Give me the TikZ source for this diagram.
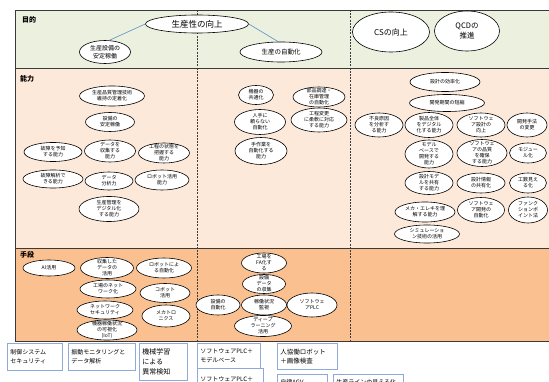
\documentclass[tikz,border=0pt]{standalone}
\usepackage{fontspec}
\setmainfont{Noto Sans CJK JP}
\usetikzlibrary{shapes.geometric}
\definecolor{bandG}{HTML}{EBF1DE}
\definecolor{bandP}{HTML}{FDE9D9}
\definecolor{bandO}{HTML}{FAC090}
\definecolor{linkB}{HTML}{5B8FC9}
\definecolor{boxB}{HTML}{8EAADB}
\definecolor{frameC}{HTML}{3A3A3A}
\tikzset{
  ov/.style={ellipse, draw=black, line width=0.6pt, fill=white, inner sep=0pt},
  ovt/.style={font=\fontsize{5}{6}\selectfont, align=center, inner sep=0pt},
  bx/.style={draw=boxB, line width=0.8pt, fill=white, inner xsep=3pt, inner ysep=2pt, align=left, anchor=north west, font=\fontsize{6}{9}\selectfont},
  frame/.style={draw=frameC, line width=0.8pt},
  dashline/.style={draw=frameC, line width=0.6pt, dash pattern=on 2pt off 1.2pt},
  link/.style={draw=linkB, line width=0.6pt},
  rowlabel/.style={font=\fontsize{7}{8}\selectfont\bfseries, anchor=west, inner sep=0pt}
}
\newcommand{\myov}[6]{%
  \node[ov, minimum width=#4pt, minimum height=#5pt] (#1) at (#2,#3) {};
  \node[ovt] (#1t) at (#1.center) {#6};}
\newcommand{\myovf}[7]{%
  \node[ov, minimum width=#4pt, minimum height=#5pt] (#1) at (#2,#3) {};
  \node[ovt, font=#6] (#1t) at (#1.center) {#7};}
\begin{document}
\begin{tikzpicture}[x=1pt, y=-1pt]
\useasboundingbox (0,0) rectangle (549,382);
\clip (0,0) rectangle (549,382);
% bands
\fill[bandG] (15,10) rectangle (549,68);
\fill[bandP] (15,68) rectangle (549,248);
\fill[bandO] (15,248) rectangle (549,341);
\draw[dashline] (197,10) -- (197,341);
\draw[dashline] (350,10) -- (350,341);
\draw[frame] (549,10) -- (15,10) -- (15,341) -- (549,341);
\draw[frame] (15,68) -- (549,68);
\draw[frame] (15,248) -- (549,248);
\node[rowlabel] (L1) at (22,20) {目的};
\node[rowlabel] (L2) at (20,79) {能力};
\node[rowlabel] (L3) at (20,255) {手段};
% 目的
\myovf{P}{197}{24}{103}{18}{\fontsize{8.5}{10}\selectfont}{生産性の向上}
\myovf{G1}{105}{52}{51}{23}{\fontsize{6}{7.5}\selectfont}{生産設備の\\安定稼働}
\myovf{G2}{281}{52}{82}{20}{\fontsize{6.5}{7.5}\selectfont}{生産の自動化}
\myovf{G3}{391}{32}{77}{40}{\fontsize{8}{9}\selectfont}{CSの向上}
\myovf{G4}{467}{31}{65}{40}{\fontsize{7.5}{10}\selectfont}{QCDの\\推進}
\draw[link] (P.west) -- (G1.70);
\draw[link] (P.east) -- (G2.105);
% 能力 column 1
\myov{A1}{112}{96}{65}{20}{生産品質管理技術\\維持の定着化}
\myov{A2}{110}{122}{49}{19}{設備の\\安定稼働}
\myov{A3}{53}{152}{58}{19}{故障を予知\\する能力}
\myov{A4}{110}{151}{51}{22}{データを\\収集する\\能力}
\myov{A5}{164}{153}{51}{20}{工程の状態を\\把握する\\能力}
\myov{A6}{53}{179}{60}{18}{故障解析で\\きる能力}
\myov{A7}{109}{181}{48}{18}{データ\\分析力}
\myov{A8}{162}{180}{54}{20}{ロボット活用\\能力}
\myov{A9}{109}{209}{60}{25}{生産管理を\\デジタル化\\する能力}
% 能力 column 2
\myov{B1}{256}{95}{35}{19}{機器の\\共通化}
\myov{B2}{319}{97}{52}{20}{部品調達・\\在庫管理\\の自動化}
\myov{B3}{260}{122}{51}{25}{人手に\\頼らない\\自動化}
\myov{B4}{319}{120}{56}{24}{工程変更\\に柔軟に対応\\する能力}
\myov{B5}{261}{151}{52}{27}{手作業を\\自動化する\\能力}
% 能力 column 3
\myov{C1}{445}{82}{70}{19}{設計の効率化}
\myov{C2}{447}{103}{75}{17}{開発期間の短縮}
\myov{C3}{379}{125}{48}{24}{不良原因\\を分析す\\る能力}
\myov{C4}{429}{125}{48}{25}{製品全体\\をデジタル\\化する能力}
\myov{C5}{481}{125}{48}{24}{ソフトウェ\\ア設計の\\向上}
\myov{C6}{527}{125}{40}{24}{開発手法\\の変更}
\myov{C7}{429}{154}{48}{28}{モデル\\ベースで\\開発する\\能力}
\myov{C8}{482}{153}{50}{27}{ソフトウェ\\アの品質\\を確保\\する能力}
\myov{C9}{528}{153}{37}{20}{モジュー\\ル化}
\myov{C10}{429}{183}{48}{23}{設計モデ\\ルを共有\\する能力}
\myov{C11}{481}{183}{48}{20}{設計情報\\の共有化}
\myov{C12}{528}{183}{37}{20}{工数見え\\る化}
\myov{C13}{425}{212}{60}{20}{メカ・エレキを理\\解する能力}
\myov{C14}{481}{210}{47}{25}{ソフトウェ\\ア開発の\\自動化}
\myov{C15}{528}{210}{39}{26}{ファンク\\ションポ\\イント法}
\myov{C16}{427}{234}{65}{18}{シミュレーショ\\ン技術の活用}
% 手段
\myov{D1}{49}{268}{52}{16}{AI活用}
\myov{D2}{107}{268}{53}{21}{収集した\\データの\\活用}
\myov{D3}{164}{268}{55}{20}{ロボットによ\\る自動化}
\myov{D4}{108}{289}{56}{18}{工場のネット\\ワーク化}
\myov{D5}{165}{293}{50}{19}{コボット\\活用}
\myov{D6}{105}{310}{56}{18}{ネットワーク\\セキュリティ}
\myov{D7}{166}{316}{48}{22}{メカトロ\\ニクス}
\myov{D8}{107}{330}{60}{20}{機器稼働状況\\の可視化\\(IoT)}
\myov{E1}{264}{263}{45}{20}{工場を\\FA化す\\る}
\myov{E2}{264}{284}{43}{19}{設備\\データ\\の収集}
\myov{E3}{218}{305}{44}{20}{設備の\\自動化}
\myov{E4}{264}{305}{45}{20}{稼働状況\\監視}
\myov{E5}{312}{305}{50}{24}{ソフトウェ\\アPLC}
\myov{E6}{263}{326}{57}{21}{ディープ\\ラーニング\\活用}
% bottom boxes
\node[bx, text width=49pt, minimum height=27pt] (F1) at (7,343) {制御システム\\セキュリティ};
\node[bx, text width=61pt, minimum height=27pt] (F2) at (68,343) {振動モニタリングと\\データ解析};
\node[bx, text width=42pt, minimum height=37pt, font=\fontsize{7}{10}\selectfont] (F3) at (139,343) {機械学習\\による\\異常検知};
\node[bx, text width=57pt, minimum height=25pt] (F4) at (197,343) {ソフトウェアPLC＋\\モデルベース};
\node[bx, text width=60pt, minimum height=22pt, anchor=north west] (F5) at (197,368) {ソフトウェアPLC＋};
\node[bx, text width=54pt, minimum height=26pt, font=\fontsize{6.5}{9}\selectfont] (F6) at (277,343) {人協働ロボット\\＋画像検査};
\node[bx, text width=44pt, minimum height=16pt] (F7) at (277,374) {自律AGV};
\node[bx, text width=64pt, minimum height=16pt] (F8) at (333,374) {生産ラインの見える化};
\end{tikzpicture}
\end{document}
